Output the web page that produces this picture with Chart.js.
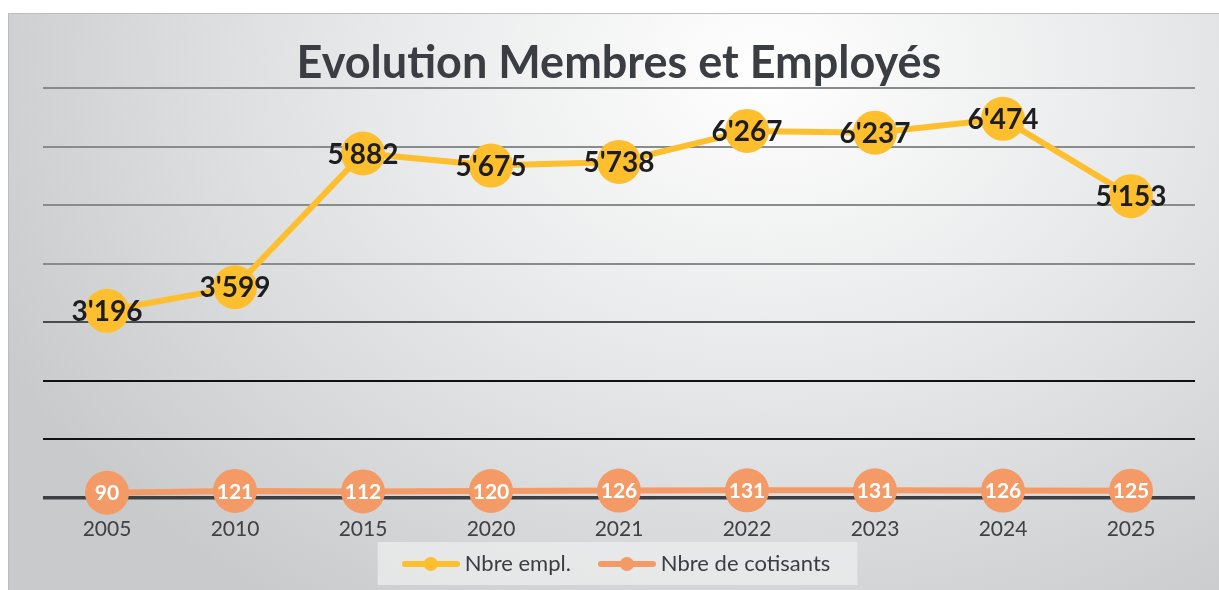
<!DOCTYPE html>
<html>
<head>
<meta charset="utf-8">
<script src="https://cdn.jsdelivr.net/npm/chart.js@4.4.1/dist/chart.umd.min.js"></script>
<style>
  html, body { margin: 0; padding: 0; background: #fff; overflow: hidden; }
  #wrap { position: relative; width: 1219px; height: 590px; }
  #frame {
    position: absolute; left: 8px; top: 13px; width: 1220px; height: 590px;
    border: 1px solid #bdbdbd;
    background: radial-gradient(ellipse 70% 110% at 62% 10%, #ffffff 0%, #e8e9ea 45%, #c9cacc 100%);
  }
  canvas { position: absolute; left: 0; top: 0; }
</style>
</head>
<body>
<div id="wrap">
  <div id="frame"></div>
  <canvas id="chart" width="1219" height="590"></canvas>
</div>
<script>
// ===== DATA =====
const YEARS = ['2005', '2010', '2015', '2020', '2021', '2022', '2023', '2024', '2025'];
const EMPLOYES = [3196, 3599, 5882, 5675, 5738, 6267, 6237, 6474, 5153];
const COTISANTS = [90, 121, 112, 120, 126, 131, 131, 126, 125];
const Y_MAX = 7000;
const Y_STEP = 1000;

const YELLOW = '#fdbf2d';
const ORANGE = '#f39a66';
const DARK = '#3a3d42';

// thousands with apostrophe, like 3'196
function fmt(v) {
  return String(v).replace(/\B(?=(\d{3})+(?!\d))/g, "'");
}

// legend symbol: short line with a dot in the middle
function legendSymbol(color) {
  const c = document.createElement('canvas');
  c.width = 58; c.height = 14;
  const g = c.getContext('2d');
  g.strokeStyle = color;
  g.lineWidth = 6;
  g.lineCap = 'round';
  g.beginPath(); g.moveTo(3, 7); g.lineTo(55, 7); g.stroke();
  g.fillStyle = color;
  g.beginPath(); g.arc(29, 7, 7, 0, Math.PI * 2); g.fill();
  return c;
}

const valueLabels = {
  id: 'valueLabels',
  afterDatasetsDraw(chart) {
    const ctx = chart.ctx;
    ctx.save();
    ctx.textAlign = 'center';
    ctx.textBaseline = 'middle';
    chart.data.datasets.forEach((ds, i) => {
      const meta = chart.getDatasetMeta(i);
      ctx.font = ds.labelFont;
      ctx.fillStyle = ds.labelColor;
      meta.data.forEach((pt, j) => {
        ctx.fillText(fmt(ds.data[j]), pt.x, pt.y + 1);
      });
    });
    ctx.restore();
  }
};

const legendBackground = {
  id: 'legendBackground',
  beforeDraw(chart) {
    const lg = chart.legend;
    if (!lg || !lg.legendHitBoxes.length) return;
    const boxes = lg.legendHitBoxes;
    const left = Math.min(...boxes.map(b => b.left)) - 30;
    const right = Math.max(...boxes.map(b => b.left + b.width)) + 27;
    const ctx = chart.ctx;
    ctx.save();
    ctx.fillStyle = 'rgba(236,237,238,0.75)';
    ctx.fillRect(left, lg.top, right - left, lg.bottom - lg.top);
    ctx.restore();
  }
};

function gridColor(v) {
  if (v === 0) return '#3c3f44';
  if (v <= 2000) return '#111111';
  if (v === 3000) return '#4a4c50';
  return '#8a8b8d';
}

new Chart(document.getElementById('chart'), {
  type: 'line',
  data: {
    labels: YEARS,
    datasets: [
      {
        label: 'Nbre empl.\u2002\u2002',
        data: EMPLOYES,
        borderColor: YELLOW,
        backgroundColor: YELLOW,
        borderWidth: 6,
        pointRadius: 22,
        pointHoverRadius: 22,
        pointBorderWidth: 0,
        tension: 0,
        clip: false,
        labelFont: 'bold 28px Lato',
        labelColor: '#1e1e20'
      },
      {
        label: 'Nbre de cotisants',
        data: COTISANTS,
        borderColor: ORANGE,
        backgroundColor: ORANGE,
        borderWidth: 6,
        pointRadius: 22,
        pointHoverRadius: 22,
        pointBorderWidth: 0,
        tension: 0,
        clip: false,
        labelFont: 'bold 21px Lato',
        labelColor: '#ffffff'
      }
    ]
  },
  options: {
    responsive: false,
    animation: false,
    layout: { padding: { left: 43, right: 24, top: 0, bottom: 5 } },
    plugins: {
      title: {
        display: true,
        text: 'Evolution Membres et Employés',
        color: DARK,
        font: { family: 'Lato', size: 45, weight: 'bold', lineHeight: 1 },
        padding: { top: 41, bottom: 2 }
      },
      legend: {
        position: 'bottom',
        labels: {
          color: DARK,
          font: { family: 'Lato', size: 22 },
          usePointStyle: true,
          pointStyleWidth: 46,
          padding: 11,
          generateLabels(chart) {
            return chart.data.datasets.map((ds, i) => ({
              text: ds.label,
              pointStyle: legendSymbol(ds.borderColor),
              fillStyle: ds.borderColor,
              strokeStyle: ds.borderColor,
              lineWidth: 0,
              fontColor: DARK,
              datasetIndex: i,
              hidden: false
            }));
          }
        }
      },
      tooltip: { enabled: false }
    },
    scales: {
      x: {
        offset: true,
        grid: { display: false, drawTicks: false },
        border: { display: false },
        ticks: {
          color: '#404145',
          font: { family: 'Lato', size: 21 },
          padding: 19
        },
        afterFit(scale) { scale.height = 44; }
      },
      y: {
        min: 0,
        max: Y_MAX,
        ticks: { display: false, stepSize: Y_STEP },
        border: { display: false },
        grid: {
          drawTicks: false,
          color: ctx => gridColor(ctx.tick.value),
          lineWidth: ctx => ctx.tick.value === 0 ? 3.5 : 2
        },
        afterFit(scale) { scale.width = 0; }
      }
    }
  },
  plugins: [legendBackground, valueLabels]
});
</script>
</body>
</html>
